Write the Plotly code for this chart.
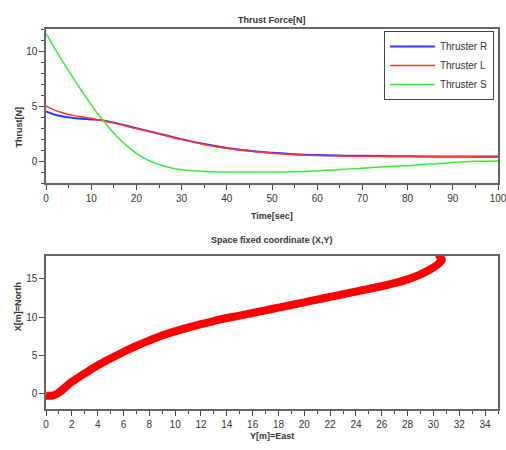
import plotly.graph_objects as go

# ---- Top plot: thrust forces ----
t_rl = [0, 2, 4, 6, 8, 10, 12, 15, 20, 25, 30, 35, 40, 45, 50, 55, 60, 65, 70, 80, 90, 100]
thr_R = [4.5, 4.2, 4.02, 3.92, 3.85, 3.78, 3.72, 3.49, 2.99, 2.49, 1.99, 1.54, 1.19, 0.94, 0.74, 0.62, 0.54, 0.49, 0.47, 0.43, 0.41, 0.40]
thr_L = [5.0, 4.6, 4.35, 4.15, 4.0, 3.88, 3.7, 3.45, 2.95, 2.45, 1.95, 1.5, 1.15, 0.9, 0.7, 0.58, 0.5, 0.46, 0.43, 0.4, 0.38, 0.37]
t_s = [0, 2, 4, 6, 8, 10, 12, 14, 16, 18, 20, 22, 24, 26, 28, 30, 35, 40, 45, 50, 55, 60, 65, 70, 75, 80, 85, 90, 95, 100]
thr_S = [11.6, 10.2, 8.85, 7.55, 6.3, 5.1, 4.0, 3.0, 2.1, 1.35, 0.7, 0.2, -0.17, -0.45, -0.65, -0.8, -0.95, -1.0, -1.0, -1.0, -0.97, -0.9, -0.78, -0.65, -0.53, -0.42, -0.28, -0.13, -0.03, 0.0]

# ---- Bottom plot: trajectory ----
pos_Y = [0, 0.5, 1, 2, 3, 4, 5, 6, 7, 8, 9, 10, 11, 12, 13, 14, 15, 16, 17, 18, 19, 20, 21, 22, 23, 24, 25, 26, 27, 28, 29, 29.8, 30.4, 30.65, 30.55, 30.4]
pos_X = [-0.25, -0.25, 0.15, 1.55, 2.65, 3.7, 4.6, 5.45, 6.25, 6.95, 7.6, 8.15, 8.65, 9.1, 9.5, 9.9, 10.2, 10.55, 10.9, 11.25, 11.6, 11.95, 12.3, 12.65, 13.0, 13.35, 13.7, 14.05, 14.45, 14.95, 15.6, 16.3, 17.0, 17.5, 17.8, 18.2]

FONT = "Liberation Sans"
fig = go.Figure()
fig.add_trace(go.Scatter(x=t_rl, y=thr_R, mode="lines", name="Thruster R",
                         line=dict(color="#3333ff", width=2, shape="spline"), xaxis="x", yaxis="y"))
fig.add_trace(go.Scatter(x=t_rl, y=thr_L, mode="lines", name="Thruster L",
                         line=dict(color="#ff3333", width=1.5, shape="spline"), xaxis="x", yaxis="y"))
fig.add_trace(go.Scatter(x=t_s, y=thr_S, mode="lines", name="Thruster S",
                         line=dict(color="#33ee33", width=1.5, shape="spline"), xaxis="x", yaxis="y"))
fig.add_trace(go.Scatter(x=pos_Y, y=pos_X, mode="lines", showlegend=False,
                         line=dict(color="#ff0000", width=8, shape="spline"), xaxis="x2", yaxis="y2"))

axcommon = dict(showgrid=False, zeroline=False, showline=True, linecolor="#666", linewidth=1.5,
                mirror=True, ticks="outside", ticklen=5, tickcolor="#444", automargin=False,
                ticklabeloverflow="allow",
                tickfont=dict(family=FONT, size=10, color="#333"))

fig.update_layout(
    width=506, height=450,
    margin=dict(l=46, r=8, t=29, b=41, autoexpand=False),
    plot_bgcolor="white", paper_bgcolor="white",
    font=dict(family=FONT, size=10, color="#333"),
    xaxis=dict(domain=[0, 1], range=[0, 100], dtick=10, anchor="y",
               minor=dict(dtick=5, ticks="outside", ticklen=3, tickcolor="#444"), **axcommon),
    yaxis=dict(domain=[0.5947, 1], range=[-2, 12], tickvals=[0, 5, 10], anchor="x",
               minor=dict(dtick=1, ticks="outside", ticklen=3, tickcolor="#444"), **axcommon),
    xaxis2=dict(domain=[0, 1], range=[0, 35], dtick=2, anchor="y2",
                minor=dict(dtick=1, ticks="outside", ticklen=3, tickcolor="#444"), **axcommon),
    yaxis2=dict(domain=[0, 0.4026], range=[-2, 18], dtick=5, anchor="x2", **axcommon),
    legend=dict(x=0.991, y=0.9947, xanchor="right", yanchor="top",
                bgcolor="white", bordercolor="#444", borderwidth=1,
                font=dict(family=FONT, size=10, color="#333"), itemwidth=45,
                tracegroupgap=0),
)

def ann(text, x, y, angle=0):
    fig.add_annotation(text=f"<b>{text}</b>", x=x, y=y, xref="paper", yref="paper",
                       showarrow=False, textangle=angle,
                       font=dict(family=FONT, size=9, color="#333"))

ann("Thrust Force[N]", 0.5, 1.042)
ann("Time[sec]", 0.5, 0.508)
ann("Space fixed coordinate (X,Y)", 0.5, 0.4447)
ann("Y[m]=East", 0.5, -0.0895)
ann("Thrust[N]", -0.075, 0.80, -90)
ann("X[m]=North", -0.078, 0.20, -90)

fig.write_html("out.html", config={"displayModeBar": False},
               post_script="document.body.style.margin='0';document.body.style.overflow='hidden';")
